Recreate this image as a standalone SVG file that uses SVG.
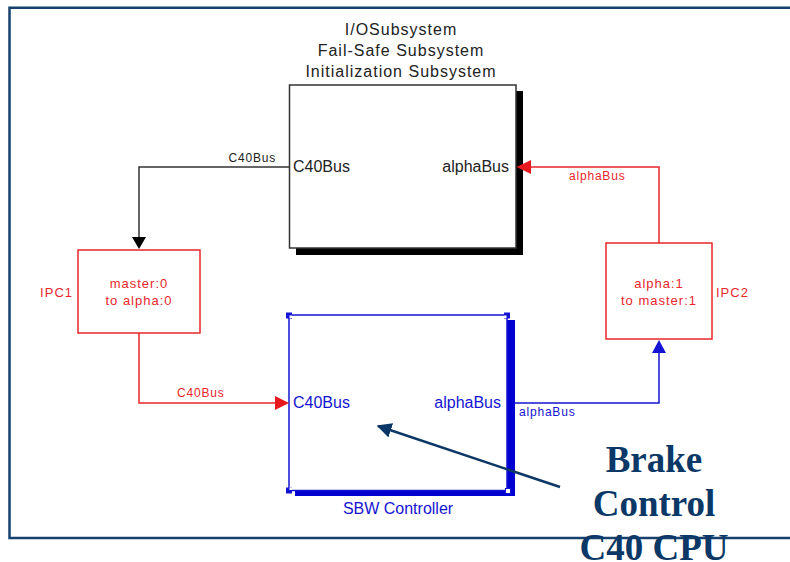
<svg xmlns="http://www.w3.org/2000/svg" width="790" height="562" viewBox="0 0 790 562">
<defs>
<style>
.t{font-family:"Liberation Sans",Arial,sans-serif}
.big{font-size:16px}
.sm{font-size:12px;letter-spacing:0.8px}
.md{font-size:13px;letter-spacing:1px}
.red{fill:#E8262B}
.blue{fill:#1414D2}
.dark{fill:#222}
.call{font-family:"Liberation Serif","Times New Roman",serif;font-weight:bold;font-size:37px;fill:#0B3866}
</style>
<marker id="navyArrow" viewBox="0 0 10 10" refX="9" refY="5" markerWidth="6" markerHeight="6" orient="auto" markerUnits="strokeWidth">
<path d="M0,0 L10,5 L0,10 z" fill="#0B3866"/>
</marker>
</defs>
<rect x="0" y="0" width="790" height="562" fill="#fff"/>
<g id="frame" fill="none" stroke="#17406D" stroke-width="2.5">
<path d="M790,7.7 H9.5 V538 H790"/>
</g>
<g id="io-subsystem">
<text class="t big dark" x="401" y="35" text-anchor="middle" letter-spacing="1">I/OSubsystem</text>
<text class="t big dark" x="401" y="56" text-anchor="middle" letter-spacing="1">Fail-Safe Subsystem</text>
<text class="t big dark" x="401" y="77" text-anchor="middle" letter-spacing="1">Initialization Subsystem</text>
<rect x="296" y="91" width="227" height="164" fill="#000"/>
<rect x="289.5" y="85" width="226.5" height="163" fill="#fff" stroke="#333" stroke-width="1.5"/>
<text class="t big dark" x="293" y="172">C40Bus</text>
<text class="t big dark" x="509" y="172" text-anchor="end">alphaBus</text>
</g>
<g id="ipc1">
<rect x="78" y="250" width="122" height="83" fill="#fff" stroke="#E8262B" stroke-width="1.5"/>
<text class="t md red" x="139" y="288" text-anchor="middle">master:0</text>
<text class="t md red" x="139" y="305" text-anchor="middle">to alpha:0</text>
<text class="t md red" x="73" y="297" text-anchor="end">IPC1</text>
</g>
<g id="ipc2">
<rect x="606" y="243" width="106" height="96" fill="#fff" stroke="#E8262B" stroke-width="1.5"/>
<text class="t md red" x="659" y="288" text-anchor="middle">alpha:1</text>
<text class="t md red" x="659" y="305" text-anchor="middle">to master:1</text>
<text class="t md red" x="716" y="297">IPC2</text>
</g>
<g id="sbw-controller">
<rect x="295" y="320" width="220" height="176" fill="#0000D0"/>
<rect x="289" y="315" width="218" height="175.5" fill="#fff" stroke="#1414D2" stroke-width="1.5"/>
<rect x="286" y="312.5" width="6" height="6" fill="#1414D2"/>
<rect x="289.5" y="315.5" width="2.5" height="2.5" fill="#fff"/>
<rect x="504" y="312.5" width="6" height="6" fill="#1414D2"/>
<rect x="504" y="315.5" width="2.5" height="2.5" fill="#fff"/>
<rect x="286" y="487.5" width="6" height="6" fill="#1414D2"/>
<rect x="289.5" y="487.5" width="2.5" height="2.5" fill="#fff"/>
<rect x="505.5" y="488.5" width="5" height="5" fill="#fff" stroke="#1414D2" stroke-width="1"/>
<text class="t big blue" x="293" y="408">C40Bus</text>
<text class="t big blue" x="501" y="408" text-anchor="end">alphaBus</text>
<text class="t big blue" x="398" y="514" text-anchor="middle">SBW Controller</text>
</g>
<g id="connectors">
<g id="c40bus-top">
<path d="M289.5,167 H139 V238" fill="none" stroke="#333" stroke-width="1.5"/>
<polygon points="132,237 146,237 139,249" fill="#000"/>
<text class="t sm dark" x="276" y="162" text-anchor="end">C40Bus</text>
</g>
<g id="c40bus-bottom">
<path d="M139,333 V403 H276" fill="none" stroke="#E8262B" stroke-width="1.5"/>
<polygon points="275,396 275,410 289,403" fill="#E8191E"/>
<text class="t sm red" x="177" y="397">C40Bus</text>
</g>
<g id="alphabus-top">
<path d="M659,243 V167 H530" fill="none" stroke="#E8262B" stroke-width="1.5"/>
<polygon points="531,160 531,174 516.5,167" fill="#E8191E"/>
<text class="t sm red" x="569" y="180">alphaBus</text>
</g>
<g id="alphabus-bottom">
<path d="M515,403 H659 V352" fill="none" stroke="#1414D2" stroke-width="1.5"/>
<polygon points="652,353 666,353 659,340" fill="#1414D2"/>
<text class="t sm blue" x="519" y="416">alphaBus</text>
</g>
</g>
<g id="callout">
<line x1="560" y1="487" x2="378" y2="426" stroke="#0B3866" stroke-width="2.5" marker-end="url(#navyArrow)"/>
<text class="call" x="654" y="472" text-anchor="middle">Brake</text>
<text class="call" x="654" y="516" text-anchor="middle">Control</text>
<text class="call" x="654" y="560" text-anchor="middle">C40 CPU</text>
</g>
</svg>
